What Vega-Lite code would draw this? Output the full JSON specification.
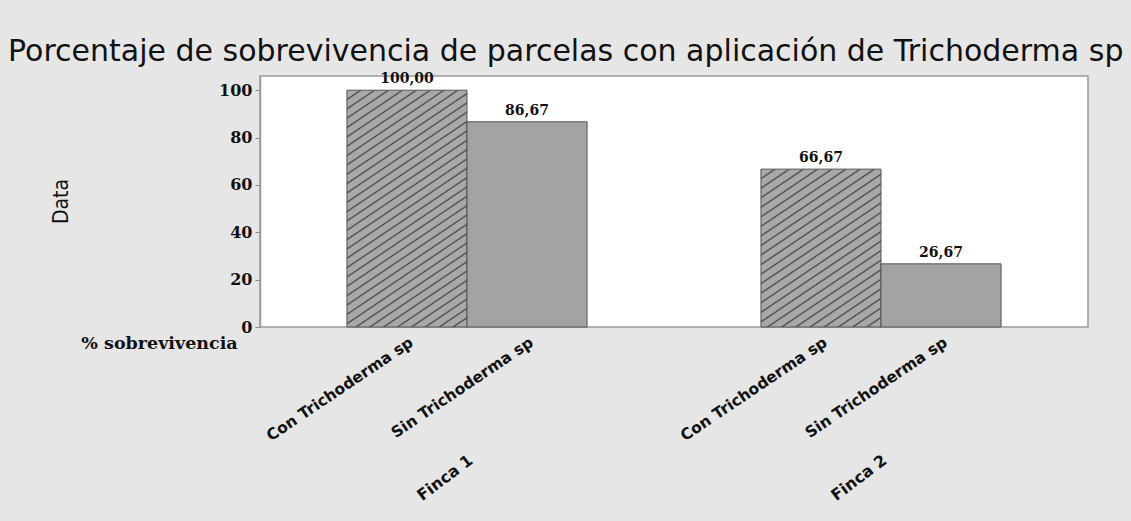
{
  "$schema": "https://vega.github.io/schema/vega-lite/v6.json",
  "width": 828,
  "height": 251,
  "autosize": {"type": "none"},
  "padding": {"left": 260, "top": 76, "right": 43, "bottom": 194},
  "background": "#e6e6e6",
  "title": {
    "text": "Porcentaje de sobrevivencia de parcelas con aplicación de Trichoderma sp",
    "anchor": "start",
    "frame": "group",
    "dx": -252,
    "offset": 5,
    "font": "DejaVu Sans",
    "fontSize": 30,
    "fontWeight": "normal",
    "color": "#111111"
  },
  "config": {
    "locale": {"number": {"decimal": ",", "thousands": ".", "grouping": [3], "currency": ["", ""]}},
    "view": {"fill": "white", "stroke": "#9a9a9a", "strokeWidth": 1.5}
  },
  "data": {
    "values": [
      {"finca": "Finca 1", "tratamiento": "Con Trichoderma sp", "sobrevivencia": 100},
      {"finca": "Finca 1", "tratamiento": "Sin Trichoderma sp", "sobrevivencia": 86.67},
      {"finca": "Finca 2", "tratamiento": "Con Trichoderma sp", "sobrevivencia": 66.67},
      {"finca": "Finca 2", "tratamiento": "Sin Trichoderma sp", "sobrevivencia": 26.67}
    ]
  },
  "encoding": {
    "x": {
      "field": "finca",
      "type": "nominal",
      "scale": {"paddingInner": 0.42, "paddingOuter": 0.21},
      "axis": {
        "title": "% sobrevivencia",
        "titleX": -101,
        "titleY": 16,
        "titleAlign": "center",
        "titleBaseline": "middle",
        "titleFont": "DejaVu Serif",
        "titleFontWeight": "bold",
        "titleFontSize": 17.5,
        "titleColor": "#111111",
        "domain": false,
        "ticks": false,
        "labelAngle": -37,
        "labelAlign": "right",
        "labelBaseline": "middle",
        "labelPadding": 131,
        "labelOffset": 4,
        "labelFont": "DejaVu Sans",
        "labelFontWeight": "bold",
        "labelFontSize": 16,
        "labelColor": "#111111"
      }
    },
    "xOffset": {
      "field": "tratamiento",
      "type": "nominal",
      "scale": {"paddingInner": 0, "paddingOuter": 0}
    },
    "y": {
      "field": "sobrevivencia",
      "type": "quantitative",
      "title": "Data",
      "scale": {"domain": [0, 106], "nice": false},
      "axis": {
        "values": [0, 20, 40, 60, 80, 100],
        "grid": false,
        "domainColor": "#9a9a9a",
        "domainWidth": 1.5,
        "tickColor": "#8a8a8a",
        "tickSize": 5,
        "labelFont": "DejaVu Serif",
        "labelFontWeight": "bold",
        "labelFontSize": 16,
        "labelColor": "#111111",
        "labelPadding": 3,
        "titleX": -199,
        "titleY": 125,
        "titleAlign": "center",
        "titleBaseline": "middle",
        "titleFont": "DejaVu Sans Condensed",
        "titleFontWeight": "normal",
        "titleFontSize": 21,
        "titleColor": "#111111"
      }
    }
  },
  "layer": [
    {
      "mark": {"type": "bar", "stroke": "#555555", "strokeWidth": 1},
      "encoding": {
        "fill": {
          "condition": [
            {
              "test": "datum.finca === 'Finca 1' && datum.tratamiento === 'Con Trichoderma sp'",
              "value": {
                "gradient": "linear", "x1": 0, "y1": 0, "x2": 0.41, "y2": 1.2013,
                "stops": [
                  {"offset": 0, "color": "#464646"}, {"offset": 0.0048, "color": "#a8a8a8"}, {"offset": 0.0246, "color": "#a8a8a8"},
                  {"offset": 0.0294, "color": "#464646"}, {"offset": 0.0342, "color": "#a8a8a8"}, {"offset": 0.054, "color": "#a8a8a8"},
                  {"offset": 0.0588, "color": "#464646"}, {"offset": 0.0636, "color": "#a8a8a8"}, {"offset": 0.0834, "color": "#a8a8a8"},
                  {"offset": 0.0882, "color": "#464646"}, {"offset": 0.093, "color": "#a8a8a8"}, {"offset": 0.1128, "color": "#a8a8a8"},
                  {"offset": 0.1176, "color": "#464646"}, {"offset": 0.1224, "color": "#a8a8a8"}, {"offset": 0.1423, "color": "#a8a8a8"},
                  {"offset": 0.1471, "color": "#464646"}, {"offset": 0.1519, "color": "#a8a8a8"}, {"offset": 0.1717, "color": "#a8a8a8"},
                  {"offset": 0.1765, "color": "#464646"}, {"offset": 0.1813, "color": "#a8a8a8"}, {"offset": 0.2011, "color": "#a8a8a8"},
                  {"offset": 0.2059, "color": "#464646"}, {"offset": 0.2107, "color": "#a8a8a8"}, {"offset": 0.2305, "color": "#a8a8a8"},
                  {"offset": 0.2353, "color": "#464646"}, {"offset": 0.2401, "color": "#a8a8a8"}, {"offset": 0.2599, "color": "#a8a8a8"},
                  {"offset": 0.2647, "color": "#464646"}, {"offset": 0.2695, "color": "#a8a8a8"}, {"offset": 0.2893, "color": "#a8a8a8"},
                  {"offset": 0.2941, "color": "#464646"}, {"offset": 0.2989, "color": "#a8a8a8"}, {"offset": 0.3187, "color": "#a8a8a8"},
                  {"offset": 0.3235, "color": "#464646"}, {"offset": 0.3283, "color": "#a8a8a8"}, {"offset": 0.3481, "color": "#a8a8a8"},
                  {"offset": 0.3529, "color": "#464646"}, {"offset": 0.3577, "color": "#a8a8a8"}, {"offset": 0.3776, "color": "#a8a8a8"},
                  {"offset": 0.3824, "color": "#464646"}, {"offset": 0.3872, "color": "#a8a8a8"}, {"offset": 0.407, "color": "#a8a8a8"},
                  {"offset": 0.4118, "color": "#464646"}, {"offset": 0.4166, "color": "#a8a8a8"}, {"offset": 0.4364, "color": "#a8a8a8"},
                  {"offset": 0.4412, "color": "#464646"}, {"offset": 0.446, "color": "#a8a8a8"}, {"offset": 0.4658, "color": "#a8a8a8"},
                  {"offset": 0.4706, "color": "#464646"}, {"offset": 0.4754, "color": "#a8a8a8"}, {"offset": 0.4952, "color": "#a8a8a8"},
                  {"offset": 0.5, "color": "#464646"}, {"offset": 0.5048, "color": "#a8a8a8"}, {"offset": 0.5246, "color": "#a8a8a8"},
                  {"offset": 0.5294, "color": "#464646"}, {"offset": 0.5342, "color": "#a8a8a8"}, {"offset": 0.554, "color": "#a8a8a8"},
                  {"offset": 0.5588, "color": "#464646"}, {"offset": 0.5636, "color": "#a8a8a8"}, {"offset": 0.5834, "color": "#a8a8a8"},
                  {"offset": 0.5882, "color": "#464646"}, {"offset": 0.593, "color": "#a8a8a8"}, {"offset": 0.6128, "color": "#a8a8a8"},
                  {"offset": 0.6176, "color": "#464646"}, {"offset": 0.6224, "color": "#a8a8a8"}, {"offset": 0.6423, "color": "#a8a8a8"},
                  {"offset": 0.6471, "color": "#464646"}, {"offset": 0.6519, "color": "#a8a8a8"}, {"offset": 0.6717, "color": "#a8a8a8"},
                  {"offset": 0.6765, "color": "#464646"}, {"offset": 0.6813, "color": "#a8a8a8"}, {"offset": 0.7011, "color": "#a8a8a8"},
                  {"offset": 0.7059, "color": "#464646"}, {"offset": 0.7107, "color": "#a8a8a8"}, {"offset": 0.7305, "color": "#a8a8a8"},
                  {"offset": 0.7353, "color": "#464646"}, {"offset": 0.7401, "color": "#a8a8a8"}, {"offset": 0.7599, "color": "#a8a8a8"},
                  {"offset": 0.7647, "color": "#464646"}, {"offset": 0.7695, "color": "#a8a8a8"}, {"offset": 0.7893, "color": "#a8a8a8"},
                  {"offset": 0.7941, "color": "#464646"}, {"offset": 0.7989, "color": "#a8a8a8"}, {"offset": 0.8187, "color": "#a8a8a8"},
                  {"offset": 0.8235, "color": "#464646"}, {"offset": 0.8283, "color": "#a8a8a8"}, {"offset": 0.8481, "color": "#a8a8a8"},
                  {"offset": 0.8529, "color": "#464646"}, {"offset": 0.8577, "color": "#a8a8a8"}, {"offset": 0.8776, "color": "#a8a8a8"},
                  {"offset": 0.8824, "color": "#464646"}, {"offset": 0.8872, "color": "#a8a8a8"}, {"offset": 0.907, "color": "#a8a8a8"},
                  {"offset": 0.9118, "color": "#464646"}, {"offset": 0.9166, "color": "#a8a8a8"}, {"offset": 0.9364, "color": "#a8a8a8"},
                  {"offset": 0.9412, "color": "#464646"}, {"offset": 0.946, "color": "#a8a8a8"}, {"offset": 0.9658, "color": "#a8a8a8"},
                  {"offset": 0.9706, "color": "#464646"}, {"offset": 0.9754, "color": "#a8a8a8"}, {"offset": 0.9952, "color": "#a8a8a8"},
                  {"offset": 1, "color": "#464646"}
                ]
              }
            },
            {
              "test": "datum.finca === 'Finca 2' && datum.tratamiento === 'Con Trichoderma sp'",
              "value": {
                "gradient": "linear", "x1": 0, "y1": 0, "x2": 0.6135, "y2": 1.1979,
                "stops": [
                  {"offset": 0, "color": "#464646"}, {"offset": 0.0065, "color": "#a8a8a8"}, {"offset": 0.0335, "color": "#a8a8a8"},
                  {"offset": 0.04, "color": "#464646"}, {"offset": 0.0465, "color": "#a8a8a8"}, {"offset": 0.0735, "color": "#a8a8a8"},
                  {"offset": 0.08, "color": "#464646"}, {"offset": 0.0865, "color": "#a8a8a8"}, {"offset": 0.1135, "color": "#a8a8a8"},
                  {"offset": 0.12, "color": "#464646"}, {"offset": 0.1265, "color": "#a8a8a8"}, {"offset": 0.1535, "color": "#a8a8a8"},
                  {"offset": 0.16, "color": "#464646"}, {"offset": 0.1665, "color": "#a8a8a8"}, {"offset": 0.1935, "color": "#a8a8a8"},
                  {"offset": 0.2, "color": "#464646"}, {"offset": 0.2065, "color": "#a8a8a8"}, {"offset": 0.2335, "color": "#a8a8a8"},
                  {"offset": 0.24, "color": "#464646"}, {"offset": 0.2465, "color": "#a8a8a8"}, {"offset": 0.2735, "color": "#a8a8a8"},
                  {"offset": 0.28, "color": "#464646"}, {"offset": 0.2865, "color": "#a8a8a8"}, {"offset": 0.3135, "color": "#a8a8a8"},
                  {"offset": 0.32, "color": "#464646"}, {"offset": 0.3265, "color": "#a8a8a8"}, {"offset": 0.3535, "color": "#a8a8a8"},
                  {"offset": 0.36, "color": "#464646"}, {"offset": 0.3665, "color": "#a8a8a8"}, {"offset": 0.3935, "color": "#a8a8a8"},
                  {"offset": 0.4, "color": "#464646"}, {"offset": 0.4065, "color": "#a8a8a8"}, {"offset": 0.4335, "color": "#a8a8a8"},
                  {"offset": 0.44, "color": "#464646"}, {"offset": 0.4465, "color": "#a8a8a8"}, {"offset": 0.4735, "color": "#a8a8a8"},
                  {"offset": 0.48, "color": "#464646"}, {"offset": 0.4865, "color": "#a8a8a8"}, {"offset": 0.5135, "color": "#a8a8a8"},
                  {"offset": 0.52, "color": "#464646"}, {"offset": 0.5265, "color": "#a8a8a8"}, {"offset": 0.5535, "color": "#a8a8a8"},
                  {"offset": 0.56, "color": "#464646"}, {"offset": 0.5665, "color": "#a8a8a8"}, {"offset": 0.5935, "color": "#a8a8a8"},
                  {"offset": 0.6, "color": "#464646"}, {"offset": 0.6065, "color": "#a8a8a8"}, {"offset": 0.6335, "color": "#a8a8a8"},
                  {"offset": 0.64, "color": "#464646"}, {"offset": 0.6465, "color": "#a8a8a8"}, {"offset": 0.6735, "color": "#a8a8a8"},
                  {"offset": 0.68, "color": "#464646"}, {"offset": 0.6865, "color": "#a8a8a8"}, {"offset": 0.7135, "color": "#a8a8a8"},
                  {"offset": 0.72, "color": "#464646"}, {"offset": 0.7265, "color": "#a8a8a8"}, {"offset": 0.7535, "color": "#a8a8a8"},
                  {"offset": 0.76, "color": "#464646"}, {"offset": 0.7665, "color": "#a8a8a8"}, {"offset": 0.7935, "color": "#a8a8a8"},
                  {"offset": 0.8, "color": "#464646"}, {"offset": 0.8065, "color": "#a8a8a8"}, {"offset": 0.8335, "color": "#a8a8a8"},
                  {"offset": 0.84, "color": "#464646"}, {"offset": 0.8465, "color": "#a8a8a8"}, {"offset": 0.8735, "color": "#a8a8a8"},
                  {"offset": 0.88, "color": "#464646"}, {"offset": 0.8865, "color": "#a8a8a8"}, {"offset": 0.9135, "color": "#a8a8a8"},
                  {"offset": 0.92, "color": "#464646"}, {"offset": 0.9265, "color": "#a8a8a8"}, {"offset": 0.9535, "color": "#a8a8a8"},
                  {"offset": 0.96, "color": "#464646"}, {"offset": 0.9665, "color": "#a8a8a8"}, {"offset": 0.9935, "color": "#a8a8a8"},
                  {"offset": 1, "color": "#464646"}
                ]
              }
            }
          ],
          "value": "#a3a3a3"
        }
      }
    },
    {
      "mark": {
        "type": "text",
        "baseline": "bottom",
        "dy": -4,
        "font": "DejaVu Serif",
        "fontWeight": "bold",
        "fontSize": 14,
        "color": "#111111"
      },
      "encoding": {
        "text": {"field": "sobrevivencia", "type": "quantitative", "format": ".2f"}
      }
    },
    {
      "mark": {
        "type": "text",
        "angle": -34,
        "align": "right",
        "baseline": "middle",
        "dx": -4,
        "dy": 14,
        "font": "DejaVu Sans",
        "fontWeight": "bold",
        "fontSize": 15.5,
        "color": "#111111"
      },
      "encoding": {
        "y": {"datum": 0, "type": "quantitative", "title": "Data"},
        "text": {"field": "tratamiento", "type": "nominal"}
      }
    }
  ]
}
